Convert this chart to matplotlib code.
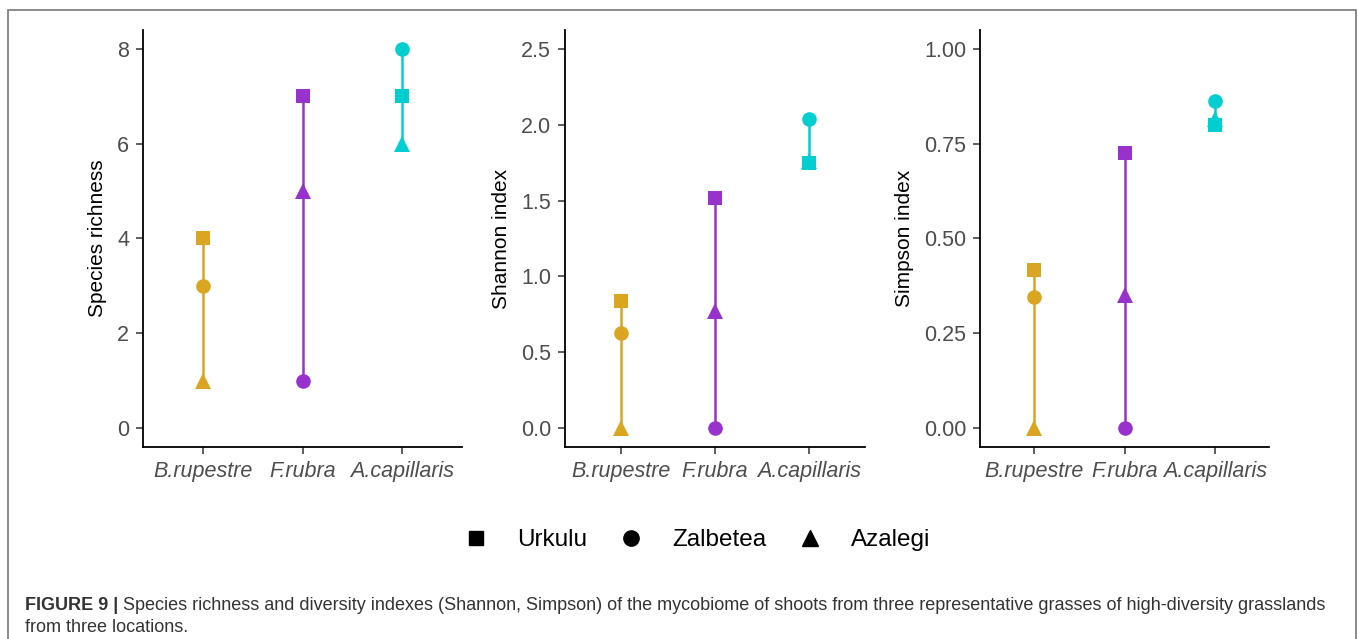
import numpy as np
import matplotlib
matplotlib.use('Agg')
import matplotlib.pyplot as plt
from matplotlib.lines import Line2D
from matplotlib.patches import Rectangle

plt.rcParams['font.family'] = ['Liberation Sans', 'DejaVu Sans']

# data
species = ['B.rupestre', 'F.rubra', 'A.capillaris']
species_colors = ['#DAA520', '#9932CC', '#00CED1']
locations = ['Urkulu', 'Zalbetea', 'Azalegi']
loc_markers = ['s', 'o', '^']

richness_urkulu = [4, 7, 7]
richness_zalbetea = [3, 1, 8]
richness_azalegi = [1, 5, 6]

shannon_urkulu = [0.84, 1.52, 1.75]
shannon_zalbetea = [0.63, 0.0, 2.04]
shannon_azalegi = [0.0, 0.77, 1.76]

simpson_urkulu = [0.416, 0.725, 0.80]
simpson_zalbetea = [0.347, 0.0, 0.862]
simpson_azalegi = [0.0, 0.35, 0.815]

panels = [
    ('Species richness', [richness_urkulu, richness_zalbetea, richness_azalegi],
     [0, 2, 4, 6, 8], ['0', '2', '4', '6', '8'], (0, 8)),
    ('Shannon index', [shannon_urkulu, shannon_zalbetea, shannon_azalegi],
     [0, 0.5, 1.0, 1.5, 2.0, 2.5], ['0.0', '0.5', '1.0', '1.5', '2.0', '2.5'], (0, 2.5)),
    ('Simpson index', [simpson_urkulu, simpson_zalbetea, simpson_azalegi],
     [0, 0.25, 0.5, 0.75, 1.0], ['0.00', '0.25', '0.50', '0.75', '1.00'], (0, 1.0)),
]

W, H = 1358, 639
fig = plt.figure(figsize=(W / 100, H / 100), dpi=100)

# panel boxes in pixels: left, right, top, bottom
boxes = [(143, 462, 30, 447), (565, 865, 30, 447), (980, 1269, 30, 447)]
msizes = {'s': 9.5, 'o': 10.5, '^': 11.5}

for (ylabel, series, yt, ytl, (lo, hi)), (l, r, t, b) in zip(panels, boxes):
    ax = fig.add_axes([l / W, 1 - b / H, (r - l) / W, (b - t) / H])
    x = np.arange(len(species))
    vals = np.array(series)
    for i in range(len(species)):
        ax.plot([x[i], x[i]], [vals[:, i].min(), vals[:, i].max()],
                color=species_colors[i], lw=1.8, zorder=2)
    for j, m in enumerate(loc_markers):
        for i in range(len(species)):
            ax.plot(x[i], vals[j, i], marker=m, ms=msizes[m], color=species_colors[i],
                    markeredgewidth=0, linestyle='none', zorder=3)
    ax.set_xlim(-0.6, len(species) - 0.4)
    pad = (hi - lo) * 0.05
    ax.set_ylim(lo - pad, hi + pad)
    ax.set_yticks(yt)
    ax.set_yticklabels(ytl)
    ax.set_xticks(x)
    ax.set_xticklabels(species, style='italic')
    ax.spines['top'].set_visible(False)
    ax.spines['right'].set_visible(False)
    for s in ['left', 'bottom']:
        ax.spines[s].set_linewidth(1.3)
    ax.tick_params(axis='both', length=5, width=1.1, color='#333333',
                   labelcolor='#4D4D4D', labelsize=15.5, pad=5)
    ax.set_ylabel(ylabel, fontsize=15, color='black', labelpad=7)

# legend
handles = [Line2D([], [], marker=m, color='black', linestyle='none', ms=msizes[m] + 0.5)
           for m in loc_markers]
fig.legend(handles, locations, loc='center', bbox_to_anchor=(697 / W, 1 - 540 / H),
           ncol=3, frameon=False, fontsize=17.5, handlelength=1.0,
           handletextpad=1.2, columnspacing=1.3)

# caption
renderer = fig.canvas.get_renderer()
cap_x, cap_y1, cap_y2 = 25 / W, 1 - 605 / H, 1 - 628 / H
t1 = fig.text(cap_x, cap_y1, 'FIGURE 9 |', fontsize=13, fontweight='bold',
              color='#333333', va='center', ha='left')
ext = t1.get_window_extent(renderer=renderer)
fig.text((ext.x1 + 5) / W, cap_y1,
         'Species richness and diversity indexes (Shannon, Simpson) of the mycobiome of shoots '
         'from three representative grasses of high-diversity grasslands',
         fontsize=13, color='#333333', va='center', ha='left')
fig.text(cap_x, cap_y2, 'from three locations.', fontsize=13, color='#333333',
         va='center', ha='left')

# outer frame
fig.patches.append(Rectangle((8 / W, -0.05), (1356 - 8) / W, 1.05 - 10 / H,
                             transform=fig.transFigure, fill=False,
                             edgecolor='#777777', lw=1.2))

fig.savefig('out.png', dpi=100)
